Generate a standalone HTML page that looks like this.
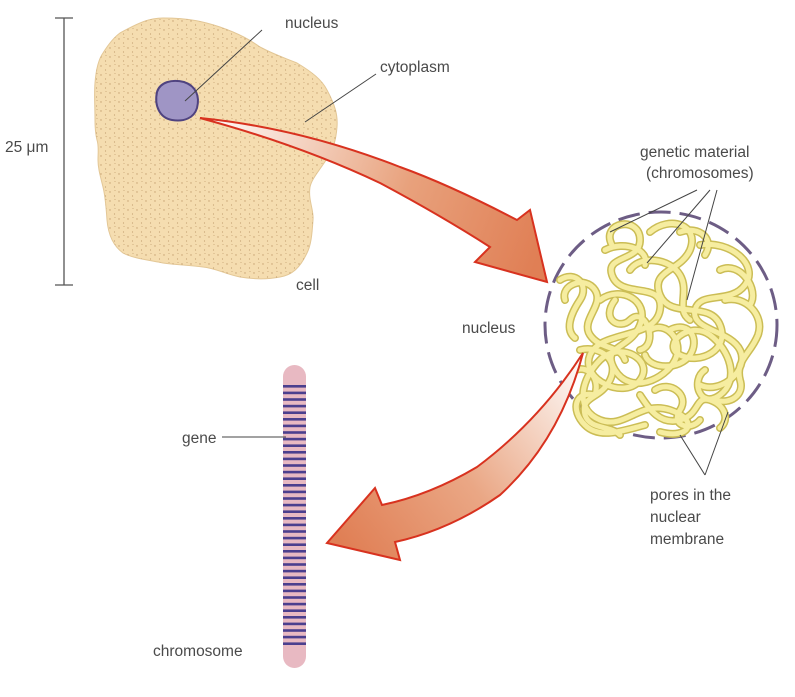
<!DOCTYPE html>
<html><head><meta charset="utf-8"><style>
html,body{margin:0;padding:0;background:#fff;}
svg{display:block;}
text{font-family:"Liberation Sans",sans-serif;font-size:15.5px;fill:#4a4a4a;}
</style></head><body>
<svg width="795" height="697" viewBox="0 0 795 697" xmlns="http://www.w3.org/2000/svg">
<defs>
<linearGradient id="g1" x1="200" y1="120" x2="540" y2="250" gradientUnits="userSpaceOnUse">
<stop offset="0" stop-color="#ffffff"/><stop offset="0.6" stop-color="#e8a17c"/><stop offset="1" stop-color="#e07f55"/></linearGradient>
<linearGradient id="g2" x1="583" y1="353" x2="340" y2="540" gradientUnits="userSpaceOnUse">
<stop offset="0" stop-color="#ffffff"/><stop offset="0.55" stop-color="#eaa785"/><stop offset="1" stop-color="#e07f55"/></linearGradient>
<pattern id="dots" width="9" height="9" patternUnits="userSpaceOnUse">
<circle cx="2" cy="3" r="0.7" fill="#c49f70"/><circle cx="6.5" cy="7" r="0.6" fill="#c49f70"/><circle cx="7" cy="1.5" r="0.5" fill="#c49f70"/></pattern>
</defs>
<line x1="64" y1="18" x2="64" y2="285" stroke="#555" stroke-width="1.3"/>
<line x1="55" y1="18" x2="73" y2="18" stroke="#555" stroke-width="1.3"/>
<line x1="55" y1="285" x2="73" y2="285" stroke="#555" stroke-width="1.3"/>
<rect x="4" y="135" width="54" height="22" fill="#fff"/>
<text x="5" y="152">25 μm</text>
<path id="cellp" d="M120,33 C140,22 150,18 163,18 C190,18 205,22 220,27 C240,34 250,40 260,47 C275,55 285,58 297,63 C312,72 322,80 327,90 C335,105 338,115 337,127 C336,140 333,150 328,157 C320,170 312,178 310,187 C308,200 314,210 313,220 C312,235 311,245 307,253 C300,268 292,275 280,277 C265,280 252,279 240,277 C225,274 215,268 203,267 C188,265 176,265 163,263 C148,260 132,258 123,253 C112,245 108,232 107,220 C106,205 105,195 103,187 C100,175 98,168 98,160 C98,152 99,146 97,140 C95,132 95,126 95,120 C95,105 94,95 95,83 C96,70 98,60 103,53 C108,45 113,38 120,33 Z" fill="#f5ddb0" stroke="#e3c796" stroke-width="1"/>
<path d="M120,33 C140,22 150,18 163,18 C190,18 205,22 220,27 C240,34 250,40 260,47 C275,55 285,58 297,63 C312,72 322,80 327,90 C335,105 338,115 337,127 C336,140 333,150 328,157 C320,170 312,178 310,187 C308,200 314,210 313,220 C312,235 311,245 307,253 C300,268 292,275 280,277 C265,280 252,279 240,277 C225,274 215,268 203,267 C188,265 176,265 163,263 C148,260 132,258 123,253 C112,245 108,232 107,220 C106,205 105,195 103,187 C100,175 98,168 98,160 C98,152 99,146 97,140 C95,132 95,126 95,120 C95,105 94,95 95,83 C96,70 98,60 103,53 C108,45 113,38 120,33 Z" fill="url(#dots)"/>
<path d="M157,92 C160,82 172,79 184,82 C196,86 200,96 197,108 C194,118 184,122 172,120 C160,118 154,106 157,92 Z" fill="#9f95c5" stroke="#4f4380" stroke-width="2"/>
<line x1="185" y1="101" x2="262" y2="30" stroke="#444" stroke-width="1"/>
<line x1="305" y1="122" x2="376" y2="74" stroke="#444" stroke-width="1"/>
<text x="285" y="28">nucleus</text>
<text x="380" y="72">cytoplasm</text>
<text x="296" y="290">cell</text>
<path d="M200,118 Q300,128 400,167 Q450,185 517,220 L530,210 L547,282 L475,262 L490,247 Q440,215 380,183 Q300,145 200,118 Z" fill="url(#g1)" stroke="#d8321f" stroke-width="2"/>
<ellipse cx="661" cy="325" rx="116" ry="113" fill="none" stroke="#6d5d85" stroke-width="3" stroke-dasharray="22,9"/>
<g id="sp" fill="none" stroke-linecap="round">
<g stroke="#cbbd55" stroke-width="8">
<path d="M612,245 C600,222 640,215 640,240 C640,262 605,255 612,275 C620,300 665,280 660,310 C655,340 600,330 590,355 C580,380 625,400 640,380 C655,360 620,340 600,360 C580,380 575,410 600,420 C625,430 640,400 670,410 C700,420 690,440 660,432"/>
<path d="M560,280 C575,270 590,285 580,300 C570,315 565,330 575,338"/>
<path d="M650,232 C670,215 700,225 690,250 C680,272 650,270 660,295 C670,320 710,300 720,325 C730,350 700,365 680,355 C660,345 690,320 710,335 C730,350 740,380 720,395 C700,410 690,380 705,370"/>
<path d="M700,245 C730,240 760,265 745,285 C730,305 700,290 695,310 C690,330 730,330 740,350 C750,370 720,395 700,385"/>
<path d="M600,300 C620,285 650,300 640,325 C630,350 600,345 615,370 C630,395 665,380 675,360 C685,340 665,320 650,330"/>
<path d="M580,350 C600,345 620,360 610,380 C600,400 580,395 585,415 C590,430 610,425 620,435"/>
<path d="M630,270 C640,255 670,258 680,275 C690,292 675,310 690,320"/>
<path d="M725,300 C745,295 765,315 758,335 C750,355 735,360 740,380 C745,395 730,405 715,400"/>
<path d="M640,395 C650,410 660,425 680,420 C700,415 695,395 710,400 C725,405 730,420 720,428"/>
<path d="M605,250 C625,240 650,250 645,265"/>
<path d="M670,330 C690,320 700,340 690,355 C680,370 650,370 645,355"/>
<path d="M565,300 C560,285 585,275 595,290 C605,305 580,320 590,335 C600,350 620,345 625,360"/>
<path d="M595,395 C575,390 570,410 585,425 C600,440 625,430 645,425"/>
<path d="M615,300 C600,320 620,330 630,320 C645,305 660,345 640,350"/>
<path d="M720,270 C740,260 760,290 750,305"/>
<path d="M655,390 C670,380 690,395 680,410 C670,425 690,432 700,420"/>
<path d="M575,370 C590,365 600,380 595,395"/>
<path d="M680,232 C700,225 715,240 705,255"/>
</g>
<g stroke="#f6eda0" stroke-width="5">
<path d="M612,245 C600,222 640,215 640,240 C640,262 605,255 612,275 C620,300 665,280 660,310 C655,340 600,330 590,355 C580,380 625,400 640,380 C655,360 620,340 600,360 C580,380 575,410 600,420 C625,430 640,400 670,410 C700,420 690,440 660,432"/>
<path d="M560,280 C575,270 590,285 580,300 C570,315 565,330 575,338"/>
<path d="M650,232 C670,215 700,225 690,250 C680,272 650,270 660,295 C670,320 710,300 720,325 C730,350 700,365 680,355 C660,345 690,320 710,335 C730,350 740,380 720,395 C700,410 690,380 705,370"/>
<path d="M700,245 C730,240 760,265 745,285 C730,305 700,290 695,310 C690,330 730,330 740,350 C750,370 720,395 700,385"/>
<path d="M600,300 C620,285 650,300 640,325 C630,350 600,345 615,370 C630,395 665,380 675,360 C685,340 665,320 650,330"/>
<path d="M580,350 C600,345 620,360 610,380 C600,400 580,395 585,415 C590,430 610,425 620,435"/>
<path d="M630,270 C640,255 670,258 680,275 C690,292 675,310 690,320"/>
<path d="M725,300 C745,295 765,315 758,335 C750,355 735,360 740,380 C745,395 730,405 715,400"/>
<path d="M640,395 C650,410 660,425 680,420 C700,415 695,395 710,400 C725,405 730,420 720,428"/>
<path d="M605,250 C625,240 650,250 645,265"/>
<path d="M670,330 C690,320 700,340 690,355 C680,370 650,370 645,355"/>
<path d="M565,300 C560,285 585,275 595,290 C605,305 580,320 590,335 C600,350 620,345 625,360"/>
<path d="M595,395 C575,390 570,410 585,425 C600,440 625,430 645,425"/>
<path d="M615,300 C600,320 620,330 630,320 C645,305 660,345 640,350"/>
<path d="M720,270 C740,260 760,290 750,305"/>
<path d="M655,390 C670,380 690,395 680,410 C670,425 690,432 700,420"/>
<path d="M575,370 C590,365 600,380 595,395"/>
<path d="M680,232 C700,225 715,240 705,255"/>
</g>
</g>
<line x1="697" y1="190" x2="610" y2="232" stroke="#444" stroke-width="1"/>
<line x1="710" y1="190" x2="647" y2="263" stroke="#444" stroke-width="1"/>
<line x1="717" y1="190" x2="687" y2="300" stroke="#444" stroke-width="1"/>
<text x="640" y="157">genetic material</text>
<text x="646" y="178">(chromosomes)</text>
<text x="462" y="333">nucleus</text>
<line x1="705" y1="475" x2="680" y2="435" stroke="#444" stroke-width="1"/>
<line x1="705" y1="475" x2="728" y2="412" stroke="#444" stroke-width="1"/>
<text x="650" y="500">pores in the</text>
<text x="650" y="522">nuclear</text>
<text x="650" y="544">membrane</text>
<path d="M583,353 Q540,420 477,467 Q430,495 382,505 L375,488 L327,543 L400,560 L395,542 Q450,530 500,495 Q560,440 583,353 Z" fill="url(#g2)" stroke="#d8321f" stroke-width="2"/>
<rect x="283" y="365" width="23" height="303" rx="11.5" fill="#e8b9c2"/>
<g fill="#4b3f8e">
<rect x="283" y="385" width="23" height="2.6"/><rect x="283" y="391.6" width="23" height="2.6"/><rect x="283" y="398.2" width="23" height="2.6"/><rect x="283" y="404.8" width="23" height="2.6"/><rect x="283" y="411.4" width="23" height="2.6"/><rect x="283" y="418" width="23" height="2.6"/><rect x="283" y="424.6" width="23" height="2.6"/><rect x="283" y="431.2" width="23" height="2.6"/><rect x="283" y="437.8" width="23" height="2.6"/><rect x="283" y="444.4" width="23" height="2.6"/><rect x="283" y="451" width="23" height="2.6"/><rect x="283" y="457.6" width="23" height="2.6"/><rect x="283" y="464.2" width="23" height="2.6"/><rect x="283" y="470.8" width="23" height="2.6"/><rect x="283" y="477.4" width="23" height="2.6"/><rect x="283" y="484" width="23" height="2.6"/><rect x="283" y="490.6" width="23" height="2.6"/><rect x="283" y="497.2" width="23" height="2.6"/><rect x="283" y="503.8" width="23" height="2.6"/><rect x="283" y="510.4" width="23" height="2.6"/><rect x="283" y="517" width="23" height="2.6"/><rect x="283" y="523.6" width="23" height="2.6"/><rect x="283" y="530.2" width="23" height="2.6"/><rect x="283" y="536.8" width="23" height="2.6"/><rect x="283" y="543.4" width="23" height="2.6"/><rect x="283" y="550" width="23" height="2.6"/><rect x="283" y="556.6" width="23" height="2.6"/><rect x="283" y="563.2" width="23" height="2.6"/><rect x="283" y="569.8" width="23" height="2.6"/><rect x="283" y="576.4" width="23" height="2.6"/><rect x="283" y="583" width="23" height="2.6"/><rect x="283" y="589.6" width="23" height="2.6"/><rect x="283" y="596.2" width="23" height="2.6"/><rect x="283" y="602.8" width="23" height="2.6"/><rect x="283" y="609.4" width="23" height="2.6"/><rect x="283" y="616" width="23" height="2.6"/><rect x="283" y="622.6" width="23" height="2.6"/><rect x="283" y="629.2" width="23" height="2.6"/><rect x="283" y="635.8" width="23" height="2.6"/><rect x="283" y="642.4" width="23" height="2.6"/>
</g>
<line x1="222" y1="437" x2="286" y2="437" stroke="#444" stroke-width="1"/>
<text x="182" y="443">gene</text>
<text x="153" y="656">chromosome</text>
</svg>
</body></html>
